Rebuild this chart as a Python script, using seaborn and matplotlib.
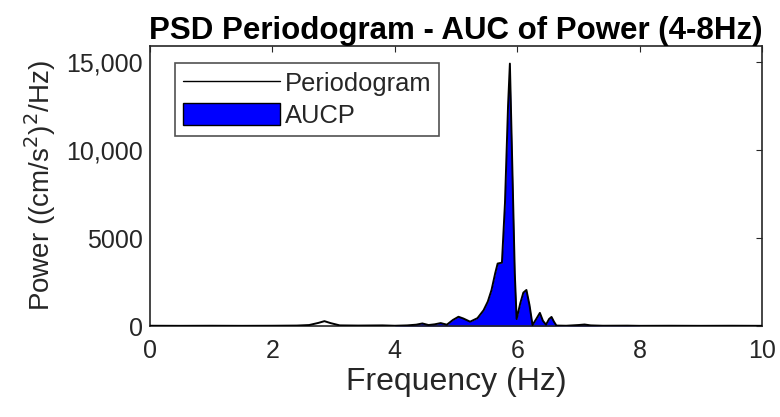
import numpy as np
import pandas as pd
import matplotlib
matplotlib.use("Agg")
import matplotlib.pyplot as plt
from matplotlib.patches import Patch
from matplotlib.lines import Line2D
import seaborn as sns

# ---- data ----
freq = [0, 0.5, 1.0, 1.5, 2.0, 2.4, 2.6, 2.75, 2.85, 2.95, 3.1, 3.4, 3.8,
        4.0, 4.2, 4.35, 4.45, 4.55, 4.65, 4.75, 4.85, 4.95, 5.04, 5.12, 5.23,
        5.35, 5.45, 5.52, 5.58, 5.64, 5.68, 5.75, 5.8, 5.85, 5.88, 5.92, 5.96,
        5.99, 6.05, 6.1, 6.15, 6.2, 6.25, 6.31, 6.37, 6.42, 6.47, 6.52, 6.56,
        6.6, 6.64, 6.8, 7.0, 7.1, 7.2, 7.4, 7.8, 8.0, 8.5, 9.0, 9.5, 10.0]
power = [20, 15, 20, 15, 20, 30, 60, 180, 280, 170, 40, 30, 40,
         20, 40, 80, 150, 60, 100, 170, 80, 350, 530, 430, 250,
         450, 900, 1400, 2050, 3000, 3550, 3600, 7000, 12500, 14900, 9000, 3000,
         400, 1300, 1900, 2050, 1200, 60, 400, 750, 300, 80, 400, 520,
         250, 30, 20, 60, 90, 40, 20, 25, 15, 20, 15, 20, 15]
band_lo, band_hi = 4, 8
xticks = [0, 2, 4, 6, 8, 10]
yticks = [0, 5000, 10000, 15000]
ytick_labels = ["0", "5000", "10,000", "15,000"]

df = pd.DataFrame({"Frequency": freq, "Power": power})

sns.set_style("white")
plt.rcParams["font.family"] = ["Liberation Sans", "DejaVu Sans"]

fig = plt.figure(figsize=(7.8, 4.17), dpi=100)
ax = fig.add_axes([0.1923, 0.218, 0.977 - 0.1923, 0.8897 - 0.218])

f = np.array(freq)
p = np.array(power)
mask = (f >= band_lo) & (f <= band_hi)
ax.fill_between(f, 0, p, where=mask, color=(0, 0, 1), linewidth=0, zorder=2)
sns.lineplot(data=df, x="Frequency", y="Power", color="black", linewidth=1.4,
             ax=ax, zorder=3, legend=False)

ax.set_xlim(0, 10)
ax.set_ylim(0, 15900)
ax.set_xticks(xticks)
ax.set_yticks(yticks)
ax.set_yticklabels(ytick_labels)
gray = "#262626"
ax.tick_params(direction="in", length=4, width=0.8, colors=gray,
               labelsize=18, top=True, right=True, pad=5)
ax.tick_params(axis="x", pad=9)
for s in ax.spines.values():
    s.set_color(gray)
    s.set_linewidth(1.2)
    s.set_visible(True)

ax.set_xlabel("Frequency (Hz)", fontsize=23, color=gray, labelpad=3)
ax.set_ylabel("Power ((cm/s$^2$)$^2$/Hz)", fontsize=20, color=gray, labelpad=6)
ax.set_title("PSD Periodogram - AUC of Power (4-8Hz)", fontsize=22.5,
             fontweight="bold", color="black", pad=5)

handles = [Line2D([0], [0], color="black", linewidth=1.0),
           Patch(facecolor=(0, 0, 1), edgecolor="black", linewidth=1.0)]
leg = ax.legend(handles, ["Periodogram", "AUCP"], loc="upper left",
                bbox_to_anchor=(0.041, 0.939), fontsize=18.4, frameon=True,
                fancybox=False, handlelength=3.8, handleheight=0.95,
                handletextpad=0.2, labelspacing=0.3, borderpad=0.3,
                borderaxespad=0)
leg.get_frame().set_edgecolor(gray)
leg.get_frame().set_linewidth(1.2)
for t in leg.get_texts():
    t.set_color(gray)

fig.savefig("out.png", dpi=100)
